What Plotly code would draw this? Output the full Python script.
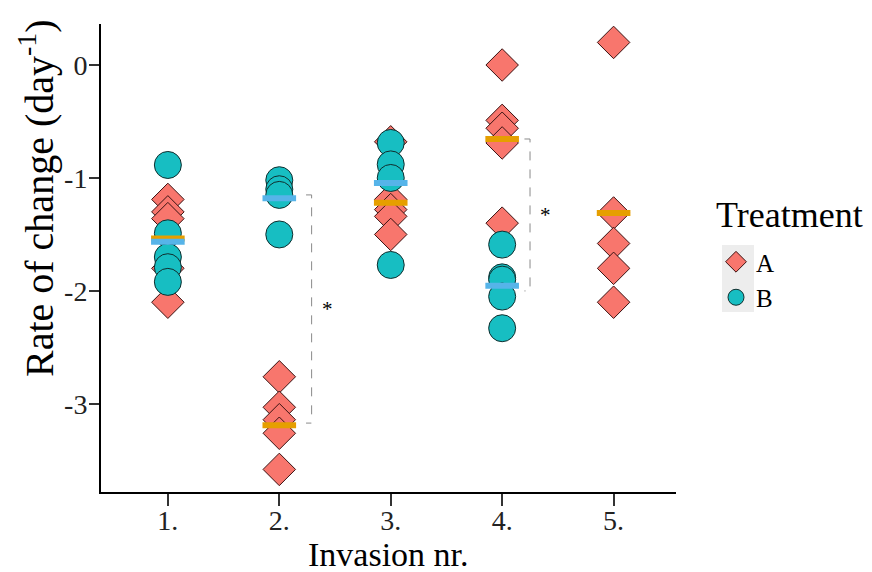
import plotly.graph_objects as go

# ---- data ----
invasions = [1, 2, 3, 4, 5]
tick_labels = ["1.", "2.", "3.", "4.", "5."]

# Treatment A (diamonds)
a_x = [1, 1, 1, 1, 1,
       2, 2, 2, 2, 2,
       3, 3, 3, 3, 3,
       4, 4, 4, 4, 4,
       5, 5, 5, 5, 5]
a_y = [-1.19, -1.30, -1.36, -1.80, -2.10,
       -2.76, -3.03, -3.14, -3.26, -3.58,
       -0.68, -1.19, -1.28, -1.34, -1.50,
       0.00, -0.49, -0.56, -0.69, -1.40,
       0.20, -1.31, -1.58, -1.80, -2.10]

# Treatment B (circles)
b_x = [1, 1, 1, 1, 1,
       2, 2, 2, 2,
       3, 3, 3, 3,
       4, 4, 4, 4, 4]
b_y = [-0.885, -1.49, -1.70, -1.79, -1.92,
       -1.02, -1.10, -1.15, -1.50,
       -0.69, -0.88, -1.00, -1.77,
       -1.59, -1.88, -1.90, -2.05, -2.33]

# group means (crossbars)
a_mean_x = [1, 2, 3, 4, 5]
a_mean_y = [-1.535, -3.19, -1.22, -0.655, -1.31]
b_mean_x = [1, 2, 3, 4]
b_mean_y = [-1.565, -1.18, -1.045, -1.955]

# significance brackets
sig_x = [2, 4]
sig_top = [-1.15, -0.655]
sig_bottom = [-3.17, -2.0]
sig_label = ["*", "*"]

FONT = "Liberation Serif"
OFF = 8  # default page body margin
W, H = 872 - OFF, 572 - OFF
L, T = 101 - OFF, 24 - OFF
R = W - (676 - OFF)
B = H - (492 - OFF)
PW, PH = W - L - R, H - T - B


def px_x(p):
    return (p - OFF - L) / PW


def px_y(p):
    return 1 - (p - OFF - T) / PH


fig = go.Figure()

fig.add_trace(go.Scatter(
    x=a_x, y=a_y, mode="markers", name="A",
    marker=dict(symbol="diamond", size=25, color="#F8766D",
                line=dict(color="#3a1212", width=1)),
))
fig.add_trace(go.Scatter(
    x=b_x, y=b_y, mode="markers", name="B",
    marker=dict(symbol="circle", size=27, color="#17BEC2",
                line=dict(color="#102e2e", width=1)),
))
fig.add_trace(go.Scatter(
    x=a_mean_x, y=a_mean_y, mode="markers", showlegend=False,
    marker=dict(symbol="line-ew", size=24,
                line=dict(color="#E69F00", width=6)),
))
fig.add_trace(go.Scatter(
    x=b_mean_x, y=b_mean_y, mode="markers", showlegend=False,
    marker=dict(symbol="line-ew", size=24,
                line=dict(color="#56B4E9", width=6)),
))

# brackets
for xc, yt, yb, lab in zip(sig_x, sig_top, sig_bottom, sig_label):
    xr = xc + (0.29 if xc == 2 else 0.25)
    xl = xr - 0.05
    fig.add_trace(go.Scatter(
        x=[xl, xr, xr, xl], y=[yt, yt, yb, yb], mode="lines",
        showlegend=False, hoverinfo="skip",
        line=dict(color="#8a8a8a", width=1, dash="dash"),
    ))
    fig.add_annotation(x=xr + 0.14, y=(yt + yb) / 2, text=lab,
                       showarrow=False,
                       font=dict(family=FONT, size=21, color="black"))

# y-axis title
fig.add_annotation(
    xref="paper", yref="paper", x=px_x(36), y=px_y(198),
    xanchor="center", yanchor="middle", showarrow=False, textangle=-90,
    text="Rate of change (day<sup>-1</sup>)",
    font=dict(family=FONT, size=40, color="black"),
)
# x-axis title
fig.add_annotation(
    xref="paper", yref="paper", x=px_x(388), y=px_y(554),
    xanchor="center", yanchor="middle", showarrow=False,
    text="Invasion nr.", font=dict(family=FONT, size=34, color="black"),
)
# legend title
fig.add_annotation(
    xref="paper", yref="paper", x=px_x(714), y=px_y(215),
    xanchor="left", yanchor="middle", showarrow=False,
    text="Treatment", font=dict(family=FONT, size=36, color="black"),
)
# legend key background
fig.add_shape(
    type="rect", xref="paper", yref="paper", layer="below",
    x0=px_x(722), x1=px_x(754), y0=px_y(245), y1=px_y(312),
    fillcolor="#EDEDED", line=dict(width=0),
)

fig.update_layout(
    width=W, height=H,
    margin=dict(l=L, r=R, t=T, b=B),
    plot_bgcolor="white", paper_bgcolor="white",
    font=dict(family=FONT, color="black"),
    legend=dict(
        font=dict(family=FONT, size=25),
        x=px_x(716), y=px_y(239), xanchor="left", yanchor="top",
        itemsizing="trace", tracegroupgap=0,
        bgcolor="rgba(0,0,0,0)",
    ),
    xaxis=dict(
        range=[0.4, 5.56], tickvals=invasions, ticktext=tick_labels,
        showline=True, linecolor="black", linewidth=2,
        ticks="outside", ticklen=12, tickwidth=1.5, tickcolor="#333",
        showgrid=False, zeroline=False, automargin=False,
        ticklabelstandoff=-10,
        tickfont=dict(family=FONT, size=28, color="#222"),
    ),
    yaxis=dict(
        range=[-3.78, 0.363], tickvals=[0, -1, -2, -3],
        ticktext=["0", "-1", "-2", "-3"],
        showline=True, linecolor="black", linewidth=2,
        ticks="outside", ticklen=10, tickwidth=1.5, tickcolor="#333",
        showgrid=False, zeroline=False, automargin=False,
        ticklabelstandoff=-4,
        tickfont=dict(family=FONT, size=28, color="#222"),
    ),
)

fig.write_html("out.html")
